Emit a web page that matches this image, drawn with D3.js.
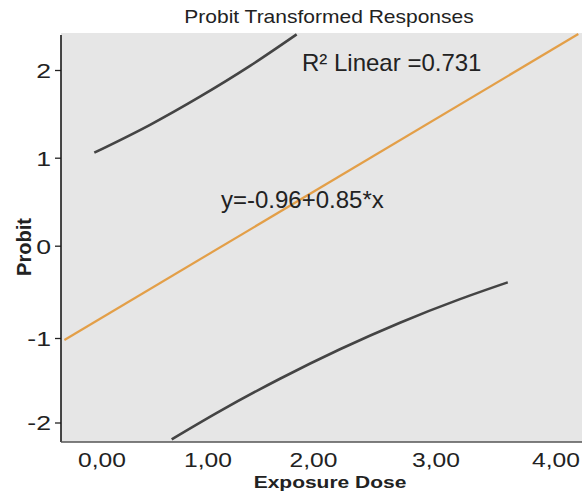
<!DOCTYPE html>
<html>
<head>
<meta charset="utf-8">
<script src="https://cdn.jsdelivr.net/npm/d3@7"></script>
<style>
  body { margin: 0; background: #fff; }
  text { font-family: Arial, "Liberation Sans", sans-serif; fill: #222; }
</style>
</head>
<body>
<svg id="chart" width="587" height="495"></svg>
<script>
// data
const xTicks = [0, 1, 2, 3, 4];
const yTicks = [-2, -1, 0, 1, 2];

// fitted line (ends at plot edges)
const fitX = [-0.35, 4.19];
const fitY = [-1.024, 2.41];

// upper and lower limit curves
const upperX = [-0.068, 0.458, 0.929, 1.403, 1.845];
const upperY = [1.057, 1.375, 1.696, 2.047, 2.406];
const lowerX = [0.662, 1.118, 1.687, 2.220, 2.710, 3.204, 3.602];
const lowerY = [-2.199, -1.865, -1.482, -1.133, -0.834, -0.579, -0.397];

const svg = d3.select("#chart");

// plot box
const plotL = 61, plotR = 582, plotT = 33, plotB = 442;

// tick labels are not evenly spaced in the original, so use piecewise scales
const x = d3.scaleLinear()
    .domain(xTicks)
    .range([101.5, 207.5, 313, 435.5, 555.5]);
const y = d3.scaleLinear()
    .domain(yTicks)
    .range([422.5, 338, 245.7, 157.7, 70]);

svg.append("rect")
    .attr("x", plotL).attr("y", plotT)
    .attr("width", plotR - plotL).attr("height", plotB - plotT)
    .attr("fill", "#e6e6e6");

// axes
const yAxis = svg.append("g")
    .attr("transform", `translate(${plotL},0)`)
    .call(d3.axisLeft(y).tickValues(yTicks).tickSize(6).tickFormat(d => String(d)));
yAxis.select(".domain").remove();
yAxis.selectAll("line").attr("stroke", "#222").attr("stroke-width", 1.3);
yAxis.selectAll("text")
    .attr("x", -10 / 1.3)
    .attr("dy", "0.36em")
    .attr("transform", "scale(1.3,1)")
    .style("font-size", "20.5px")
    .style("font-family", "Arial, 'Liberation Sans', sans-serif")
    .attr("fill", "#222");

const xAxis = svg.append("g")
    .attr("transform", `translate(0,${plotB})`)
    .call(d3.axisBottom(x).tickValues(xTicks).tickSize(0)
        .tickFormat(d => d3.format(".2f")(d).replace(".", ",")));
xAxis.select(".domain").remove();
xAxis.selectAll("text")
    .attr("y", 0)
    .attr("dy", 0)
    .attr("transform", "translate(0,25.3) scale(1.2,1)")
    .style("font-size", "20.5px")
    .style("font-family", "Arial, 'Liberation Sans', sans-serif")
    .attr("fill", "#222");

svg.append("line")
    .attr("x1", plotL).attr("x2", plotL)
    .attr("y1", plotT + 2).attr("y2", plotB)
    .attr("stroke", "#1a1a1a").attr("stroke-width", 1.6);
svg.append("line")
    .attr("x1", plotL).attr("x2", plotR)
    .attr("y1", plotB).attr("y2", plotB)
    .attr("stroke", "#555").attr("stroke-width", 1.6);

// lines
svg.append("clipPath").attr("id", "plotclip")
    .append("rect")
    .attr("x", plotL).attr("y", plotT)
    .attr("width", plotR - plotL).attr("height", plotB - plotT);

const line = d3.line()
    .x(d => x(d[0]))
    .y(d => y(d[1]))
    .curve(d3.curveMonotoneX);

const g = svg.append("g").attr("clip-path", "url(#plotclip)");

g.append("path")
    .datum(d3.zip(upperX, upperY))
    .attr("d", line)
    .attr("fill", "none")
    .attr("stroke", "#444")
    .attr("stroke-width", 2.6);

g.append("path")
    .datum(d3.zip(lowerX, lowerY))
    .attr("d", line)
    .attr("fill", "none")
    .attr("stroke", "#444")
    .attr("stroke-width", 2.6);

g.append("path")
    .datum(d3.zip(fitX, fitY))
    .attr("d", line)
    .attr("fill", "none")
    .attr("stroke", "#e39f48")
    .attr("stroke-width", 2.2);

// texts
svg.append("text")
    .attr("transform", "translate(329,23.3) scale(1.13,1)")
    .attr("text-anchor", "middle")
    .style("font-size", "18.6px")
    .text("Probit Transformed Responses");

svg.append("text")
    .attr("x", 302).attr("y", 71)
    .style("font-size", "24px")
    .text("R² Linear =0.731");

svg.append("text")
    .attr("x", 221).attr("y", 208.3)
    .style("font-size", "24px")
    .text("y=-0.96+0.85*x");

svg.append("text")
    .attr("transform", "translate(330,488.3) scale(1.22,1)")
    .attr("text-anchor", "middle")
    .style("font-size", "17.2px")
    .style("font-weight", "bold")
    .text("Exposure Dose");

svg.append("text")
    .attr("transform", "translate(30.5,247) rotate(-90)")
    .attr("text-anchor", "middle")
    .style("font-size", "20px")
    .style("font-weight", "bold")
    .text("Probit");
</script>
</body>
</html>
